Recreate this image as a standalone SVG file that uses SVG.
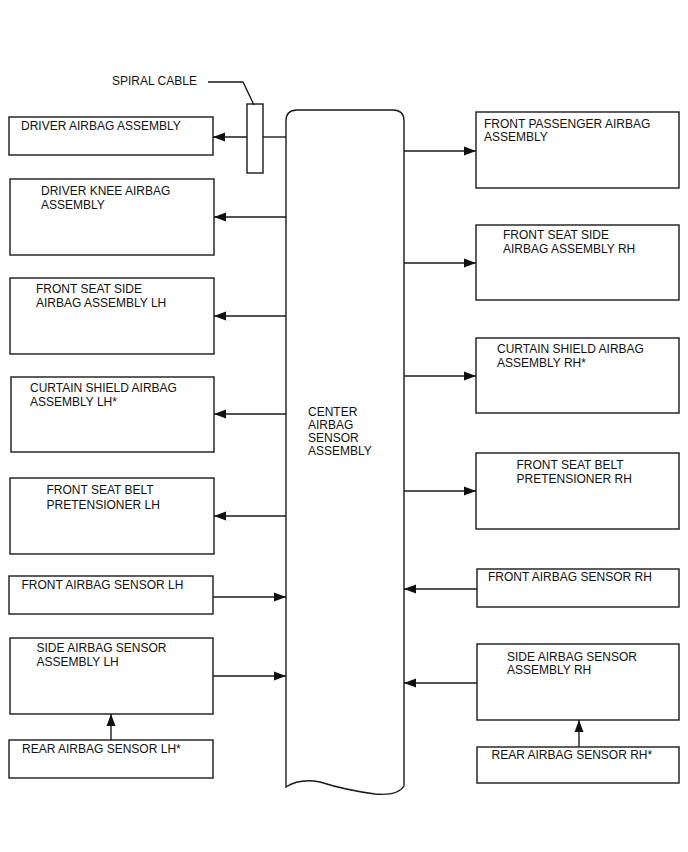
<svg xmlns="http://www.w3.org/2000/svg" width="688" height="852" viewBox="0 0 688 852">
<style>
.box{fill:#fff;stroke:#1a1a1a;stroke-width:1.4}
.ln{fill:none;stroke:#1a1a1a;stroke-width:1.4}
.arr{fill:none;stroke:#1a1a1a;stroke-width:1.4;marker-end:url(#ah)}
text{font-family:"Liberation Sans",Arial,sans-serif;font-size:12px;fill:#111}
</style>
<defs>
<marker id="ah" markerUnits="userSpaceOnUse" markerWidth="13" markerHeight="10" refX="12" refY="5" orient="auto">
<path d="M0,0.5 L12,5 L0,9.5 Z" fill="#111"/>
</marker>
</defs>
<rect width="688" height="852" fill="#fff"/>

<g id="center">
<path class="box" d="M286,787 L286,121 Q286,110 297,110 L393,110 Q404,110 404,121 L404,786 Q398,796 375,794 Q345,790 320,782 Q300,778 286,787 Z"/>
<text x="308" y="416">CENTER</text>
<text x="308" y="429">AIRBAG</text>
<text x="308" y="442">SENSOR</text>
<text x="308" y="455">ASSEMBLY</text>
</g>

<g id="spiral-cable">
<rect class="box" x="247" y="104" width="16" height="69"/>
<path class="ln" d="M208,82 L243,82 L254,105"/>
<text x="112" y="85">SPIRAL CABLE</text>
</g>

<g id="driver-airbag"><rect class="box" x="9" y="117" width="204" height="38"/><text x="21" y="130">DRIVER AIRBAG ASSEMBLY</text></g>
<g id="driver-knee"><rect class="box" x="10" y="179" width="204" height="76"/><text x="41" y="195">DRIVER KNEE AIRBAG</text><text x="41" y="208.5">ASSEMBLY</text></g>
<g id="front-seat-side-lh"><rect class="box" x="10" y="278" width="204" height="76"/><text x="36" y="292.5">FRONT SEAT SIDE</text><text x="36" y="306.5">AIRBAG ASSEMBLY LH</text></g>
<g id="curtain-lh"><rect class="box" x="11" y="377" width="203" height="75"/><text x="30" y="391.5">CURTAIN SHIELD AIRBAG</text><text x="30" y="405.5">ASSEMBLY LH*</text></g>
<g id="belt-lh"><rect class="box" x="10" y="478" width="204" height="76"/><text x="46.5" y="494">FRONT SEAT BELT</text><text x="46.5" y="508.5">PRETENSIONER LH</text></g>
<g id="front-sensor-lh"><rect class="box" x="9" y="576" width="204" height="38"/><text x="21.5" y="589">FRONT AIRBAG SENSOR LH</text></g>
<g id="side-sensor-lh"><rect class="box" x="10" y="638" width="203" height="76"/><text x="36.5" y="652">SIDE AIRBAG SENSOR</text><text x="36.5" y="665.5">ASSEMBLY LH</text></g>
<g id="rear-sensor-lh"><rect class="box" x="9" y="740" width="204" height="38"/><text x="22" y="753">REAR AIRBAG SENSOR LH*</text></g>

<g id="front-passenger"><rect class="box" x="476" y="112" width="203" height="76"/><text x="484" y="128">FRONT PASSENGER AIRBAG</text><text x="484" y="141">ASSEMBLY</text></g>
<g id="front-seat-side-rh"><rect class="box" x="476" y="225" width="203" height="75"/><text x="503" y="239">FRONT SEAT SIDE</text><text x="503" y="252.5">AIRBAG ASSEMBLY RH</text></g>
<g id="curtain-rh"><rect class="box" x="476" y="338" width="203" height="75"/><text x="497" y="353">CURTAIN SHIELD AIRBAG</text><text x="497" y="366.5">ASSEMBLY RH*</text></g>
<g id="belt-rh"><rect class="box" x="476" y="453" width="203" height="76"/><text x="516.5" y="469">FRONT SEAT BELT</text><text x="516.5" y="482.5">PRETENSIONER RH</text></g>
<g id="front-sensor-rh"><rect class="box" x="477" y="569" width="202" height="38"/><text x="488" y="581">FRONT AIRBAG SENSOR RH</text></g>
<g id="side-sensor-rh"><rect class="box" x="477" y="644" width="202" height="76"/><text x="507" y="661">SIDE AIRBAG SENSOR</text><text x="507" y="674">ASSEMBLY RH</text></g>
<g id="rear-sensor-rh"><rect class="box" x="477" y="747" width="202" height="36"/><text x="491.5" y="758.5">REAR AIRBAG SENSOR RH*</text></g>

<g id="connectors">
<line class="ln" x1="286" y1="137" x2="263" y2="137"/>
<line class="arr" x1="247" y1="137" x2="213" y2="137"/>
<line class="arr" x1="286" y1="217" x2="214" y2="217"/>
<line class="arr" x1="286" y1="316" x2="214" y2="316"/>
<line class="arr" x1="286" y1="414" x2="214" y2="414"/>
<line class="arr" x1="286" y1="516" x2="214" y2="516"/>
<line class="arr" x1="213" y1="597" x2="286" y2="597"/>
<line class="arr" x1="213" y1="676" x2="286" y2="676"/>
<line class="arr" x1="111" y1="740" x2="111" y2="714"/>
<line class="arr" x1="404" y1="151" x2="476" y2="151"/>
<line class="arr" x1="404" y1="263" x2="476" y2="263"/>
<line class="arr" x1="404" y1="376" x2="476" y2="376"/>
<line class="arr" x1="404" y1="491" x2="476" y2="491"/>
<line class="arr" x1="477" y1="589" x2="404" y2="589"/>
<line class="arr" x1="477" y1="683" x2="404" y2="683"/>
<line class="arr" x1="579" y1="747" x2="579" y2="720"/>
</g>
</svg>
